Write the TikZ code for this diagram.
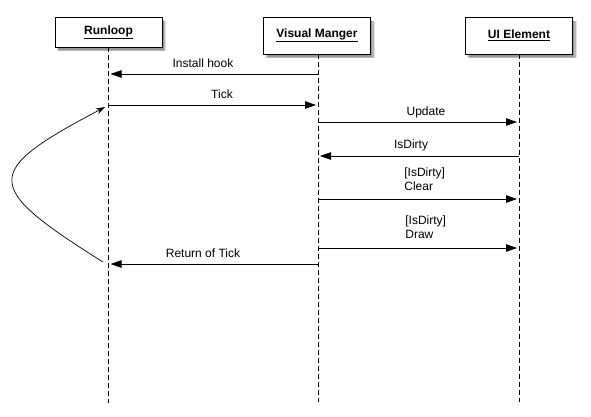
\documentclass[tikz,border=0pt]{standalone}
\usepackage{fontspec}
\setmainfont{Liberation Sans}
\usetikzlibrary{arrows.meta,positioning,shadows}

\begin{document}
\begin{tikzpicture}[x=1pt,y=-1pt,line width=0.8pt,
  obj/.style={draw,fill=white,minimum width=107pt,font=\fontsize{12}{14}\selectfont\bfseries,
    drop shadow={shadow xshift=3pt,shadow yshift=-4pt,shadow scale=1.02,fill=black,opacity=0.12},
    drop shadow={shadow xshift=3pt,shadow yshift=-4pt,fill=black,opacity=0.18},
    drop shadow={shadow xshift=2.5pt,shadow yshift=-3pt,shadow scale=0.99,fill=black,opacity=0.18}},
  life/.style={dash pattern=on 5pt off 3pt},
  msg/.style={-{Triangle[length=11pt,width=7.5pt]},shorten >=2pt},
  lbl/.style={font=\fontsize{12}{13.5}\selectfont,inner sep=0pt,align=left}]
\useasboundingbox (0,0) rectangle (591,416);

% objects
\node[obj,minimum height=30pt] (rl) at (108.5,32) {\underline{Runloop}};
\node[obj,minimum height=37pt] (vm) at (317,35.5) {\underline{Visual Manger}};
\node[obj,minimum height=37pt] (ui) at (519,35.5) {\underline{UI Element}};

% lifelines
\coordinate (rl-end) at (108.5,403);
\coordinate (vm-end) at (318,402);
\coordinate (ui-end) at (519,402);
\foreach \o in {rl,vm,ui} {
\draw[life] (\o.south -| \o-end) -- (\o-end);};

% message points
\coordinate (vm-hook) at (318,74);
\coordinate (rl-hook) at (108.5,74);
\coordinate (rl-tick) at (108.5,105);
\coordinate (vm-tick) at (318,105);
\coordinate (vm-upd) at (318,122);
\coordinate (ui-upd) at (519,122);
\coordinate (ui-dirty) at (519,156);
\coordinate (vm-dirty) at (318,156);
\coordinate (vm-clear) at (318,199);
\coordinate (ui-clear) at (519,199);
\coordinate (vm-draw) at (318,248);
\coordinate (ui-draw) at (519,248);
\coordinate (vm-ret) at (318,264);
\coordinate (rl-ret) at (108.5,264);

% messages
\draw[msg] (vm-hook) -- (rl-hook);
\draw[msg] (rl-tick) -- (vm-tick);
\draw[msg] (vm-upd) -- (ui-upd);
\draw[msg] (ui-dirty) -- (vm-dirty);
\draw[msg] (vm-clear) -- (ui-clear);
\draw[msg] (vm-draw) -- (ui-draw);
\draw[msg] (vm-ret) -- (rl-ret);

\node[lbl] (l-hook) at (203,63) {Install hook};
\node[lbl] (l-tick) at (222,94) {Tick};
\node[lbl] (l-upd) at (426,112) {Update};
\node[lbl] (l-dirty) at (411,145) {IsDirty};
\node[lbl,anchor=west] (l-clear) at (404,179) {[IsDirty]\\Clear};
\node[lbl,anchor=west] (l-draw) at (405,227) {[IsDirty]\\Draw};
\node[lbl] (l-ret) at (203,253) {Return of Tick};

% loop back
\coordinate (loop-in) at (103,262);
\coordinate (loop-out) at (105,107);
\draw[line width=0.7pt,-{Stealth[length=9pt,width=6pt]}] (loop-in) .. controls (-18,186) and (-18,172) .. (loop-out);
\end{tikzpicture}
\end{document}
